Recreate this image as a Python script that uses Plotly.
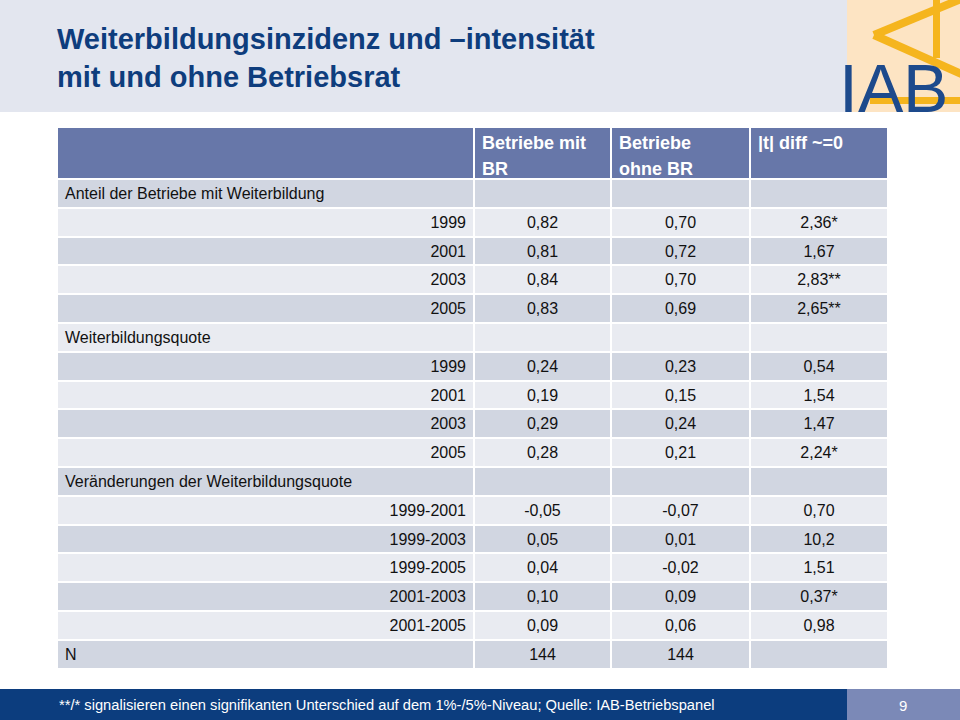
import plotly.graph_objects as go

# ---------------- data ----------------
row_labels = ["Anteil der Betriebe mit Weiterbildung", "1999", "2001", "2003", "2005",
              "Weiterbildungsquote", "1999", "2001", "2003", "2005",
              "Veränderungen der Weiterbildungsquote", "1999-2001", "1999-2003",
              "1999-2005", "2001-2003", "2001-2005", "N"]
is_section = [True, False, False, False, False,
              True, False, False, False, False,
              True, False, False, False, False, False, True]
mit_br = ["", "0,82", "0,81", "0,84", "0,83",
          "", "0,24", "0,19", "0,29", "0,28",
          "", "-0,05", "0,05", "0,04", "0,10", "0,09", "144"]
ohne_br = ["", "0,70", "0,72", "0,70", "0,69",
           "", "0,23", "0,15", "0,24", "0,21",
           "", "-0,07", "0,01", "-0,02", "0,09", "0,06", "144"]
t_diff = ["", "2,36*", "1,67", "2,83**", "2,65**",
          "", "0,54", "1,54", "1,47", "2,24*",
          "", "0,70", "10,2", "1,51", "0,37*", "0,98", ""]
# header labels, one list per column (first line, second line)
header_labels = [["", ""], ["Betriebe mit", "BR"], ["Betriebe", "ohne BR"], ["|t| diff ~=0", ""]]
title_text = "Weiterbildungsinzidenz und –intensität<br>mit und ohne Betriebsrat"
footer_text = "**/* signalisieren einen signifikanten Unterschied auf dem 1%-/5%-Niveau; Quelle: IAB-Betriebspanel"
page_number = "9"
logo_letters = ["I", "A", "B"]

# ---------------- style ----------------
W, H = 960, 720
FONT = "Liberation Sans, Arial, Helvetica, sans-serif"
DARK_ROW = "#d1d6e1"
LIGHT_ROW = "#e9ebf1"
HEADER_BLUE = "#6777a9"
TITLE_BLUE = "#0e3d7d"
CLEAR = "rgba(0,0,0,0)"
NBSP = "\u00a0"


def px(x):
    return x / W


def py(y):
    return 1 - y / H


n = len(row_labels)
row_fill = [DARK_ROW if i % 2 == 0 else LIGHT_ROW for i in range(n)]
section_text = [lab if sec else "" for lab, sec in zip(row_labels, is_section)]
sub_text = ["" if sec else lab for lab, sec in zip(row_labels, is_section)]
# non-breaking spaces keep each header line on one fixed-height header row
header_values = [[t.replace(" ", NBSP) for t in col] for col in header_labels]

col_widths = [417, 137, 139, 138]
table_domain = dict(x=[px(57), px(888)], y=[py(690), py(127)])
row_h = 28.8
head_row_h = 26

fig = go.Figure()

# base table: fills, header text, section labels (left) and values
fig.add_trace(go.Table(
    domain=table_domain,
    columnwidth=col_widths,
    header=dict(
        values=header_values,
        fill_color=HEADER_BLUE,
        line=dict(color=HEADER_BLUE, width=2),
        align="left",
        height=head_row_h,
        font=dict(family=FONT, size=18, color="white", weight="bold"),
    ),
    cells=dict(
        values=[section_text, mit_br, ohne_br, t_diff],
        fill_color=[row_fill] * 4,
        line=dict(color="white", width=2),
        align=["left", "center", "center", "center"],
        height=row_h,
        font=dict(family=FONT, size=16, color="#111111"),
    ),
))

# overlay table: white header grid and right-aligned sub-row labels in the first column
fig.add_trace(go.Table(
    domain=table_domain,
    columnwidth=col_widths,
    header=dict(
        values=["", "", "", ""],
        fill_color=CLEAR,
        line=dict(color="white", width=2),
        align="left",
        height=2 * head_row_h,
        font=dict(family=FONT, size=18, color=CLEAR),
    ),
    cells=dict(
        values=[sub_text, mit_br, ohne_br, t_diff],
        fill_color=CLEAR,
        line=dict(color=CLEAR, width=2),
        align=["right", "center", "center", "center"],
        height=row_h,
        font=dict(family=FONT, size=16, color=["#111111", CLEAR, CLEAR, CLEAR]),
    ),
))

shapes = []
# title band
shapes.append(dict(type="rect", xref="paper", yref="paper", x0=px(0), x1=px(960), y0=py(112), y1=py(0),
                   fillcolor="#e3e6ef", line=dict(width=0), layer="below"))
# logo background
GOLD = "#f5b51e"
shapes.append(dict(type="rect", xref="paper", yref="paper", x0=px(847), x1=px(960), y0=py(112), y1=py(0),
                   fillcolor="#fde4c3", line=dict(width=0), layer="below"))
shapes.append(dict(type="line", xref="paper", yref="paper", x0=px(874), y0=py(35), x1=px(966), y1=py(-3),
                   line=dict(color=GOLD, width=8), layer="below"))
shapes.append(dict(type="line", xref="paper", yref="paper", x0=px(874), y0=py(35), x1=px(966), y1=py(76),
                   line=dict(color=GOLD, width=8), layer="below"))
shapes.append(dict(type="rect", xref="paper", yref="paper", x0=px(933), x1=px(940), y0=py(58), y1=py(0),
                   fillcolor=GOLD, line=dict(width=0), layer="below"))
shapes.append(dict(type="rect", xref="paper", yref="paper", x0=px(870), x1=px(960), y0=py(104), y1=py(97),
                   fillcolor=GOLD, line=dict(width=0), layer="below"))
# footer
shapes.append(dict(type="rect", xref="paper", yref="paper", x0=px(0), x1=px(847), y0=py(720), y1=py(689),
                   fillcolor="#0c3d7e", line=dict(width=0), layer="below"))
shapes.append(dict(type="rect", xref="paper", yref="paper", x0=px(847), x1=px(960), y0=py(720), y1=py(689),
                   fillcolor="#7b89b7", line=dict(width=0), layer="below"))

annotations = [
    dict(text=f"<b>{title_text.replace('<br>', '</b><br><b>')}</b>", xref="paper", yref="paper",
         x=px(55), y=py(58), xanchor="left", yanchor="middle", align="left", showarrow=False,
         font=dict(family=FONT, size=29, color=TITLE_BLUE)),
    dict(text=footer_text, xref="paper", yref="paper", x=px(57), y=py(705), xanchor="left", yanchor="middle",
         showarrow=False, font=dict(family=FONT, size=14.7, color="white")),
    dict(text=page_number, xref="paper", yref="paper", x=px(903), y=py(705), xanchor="center", yanchor="middle",
         showarrow=False, font=dict(family=FONT, size=15, color="white")),
]
# IAB logo letters
for letter, cx in zip(logo_letters, [848, 880.5, 925.5]):
    annotations.append(dict(text=letter, xref="paper", yref="paper", x=px(cx), y=py(88), xanchor="center",
                            yanchor="middle", showarrow=False,
                            font=dict(family=FONT, size=68, color="#1d4a8c")))

fig.update_layout(
    width=W, height=H,
    margin=dict(l=0, r=0, t=0, b=0),
    paper_bgcolor="white",
    plot_bgcolor="white",
    shapes=shapes,
    annotations=annotations,
    showlegend=False,
)

fig.write_html("out.html", config={"displayModeBar": False},
               post_script="document.body.style.margin='0px';")
